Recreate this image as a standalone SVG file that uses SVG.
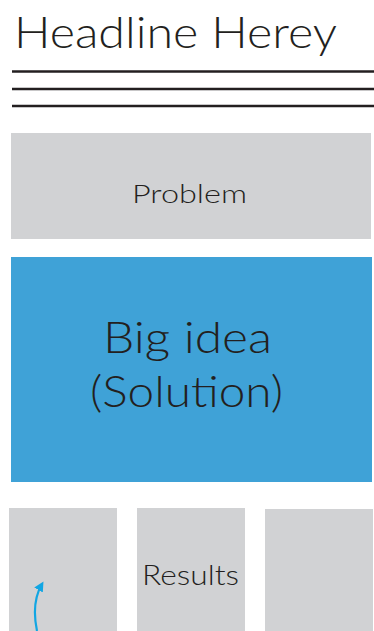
<svg xmlns="http://www.w3.org/2000/svg" width="374" height="631" viewBox="0 0 374 631">
<defs>
<style>
.t{font-family:Lato,"Open Sans","Liberation Sans",sans-serif;fill:#231f20;font-weight:300}
.gray{fill:#d1d2d4}
.rule{stroke:#231f20;stroke-width:2.5}
</style>
<marker id="ah" viewBox="0 0 10 10" refX="7" refY="5" markerWidth="4.5" markerHeight="4.5" orient="auto">
<path d="M0,0 L10,5 L0,10 z" fill="#12a6e3"/>
</marker>
</defs>
<rect width="374" height="631" fill="#fff"/>
<g id="headline">
<text class="t" x="14" y="48" font-size="44" textLength="323" lengthAdjust="spacingAndGlyphs">Headline Herey</text>
<line class="rule" x1="12" y1="71.5" x2="374" y2="71.5"/>
<line class="rule" x1="12" y1="89" x2="374" y2="89"/>
<line class="rule" x1="12" y1="106" x2="374" y2="106"/>
</g>
<g id="problem">
<rect class="gray" x="11" y="133" width="360" height="106"/>
<text class="t" x="189.5" y="203" font-size="26" text-anchor="middle" textLength="115" lengthAdjust="spacingAndGlyphs">Problem</text>
</g>
<g id="bigidea">
<rect x="11" y="257" width="361" height="225" fill="#3fa2d7"/>
<text class="t" x="187.5" y="353" font-size="44" text-anchor="middle" textLength="169" lengthAdjust="spacingAndGlyphs">Big idea</text>
<text class="t" x="186.5" y="407" font-size="44" text-anchor="middle" textLength="193" lengthAdjust="spacingAndGlyphs">(Solution)</text>
</g>
<g id="box1">
<rect class="gray" x="9" y="508" width="108" height="123"/>
</g>
<g id="results">
<rect class="gray" x="137" y="508" width="108" height="123"/>
<text class="t" x="190.5" y="585" font-size="27" text-anchor="middle" textLength="97" lengthAdjust="spacingAndGlyphs">Results</text>
</g>
<g id="box3">
<rect class="gray" x="265" y="509" width="108" height="122"/>
</g>
<g id="connectors">
<path d="M37,631 C33,612 35,596 42,584" fill="none" stroke="#12a6e3" stroke-width="2.2" marker-end="url(#ah)"/>
</g>
</svg>
